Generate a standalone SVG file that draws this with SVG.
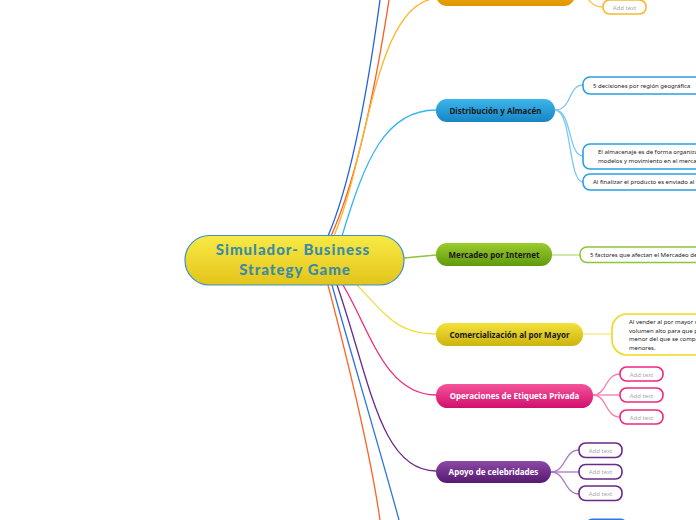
<svg xmlns="http://www.w3.org/2000/svg" width="696" height="520" viewBox="0 0 696 520">
<defs>
<linearGradient id="gC" x1="0" y1="0" x2="0" y2="1"><stop offset="0" stop-color="#f9ea45"/><stop offset="1" stop-color="#e3c41a"/></linearGradient>
<linearGradient id="gO" x1="0" y1="0" x2="0" y2="1"><stop offset="0" stop-color="#f7b81c"/><stop offset="1" stop-color="#e09600"/></linearGradient>
<linearGradient id="gB" x1="0" y1="0" x2="0" y2="1"><stop offset="0" stop-color="#3cb6ec"/><stop offset="1" stop-color="#1784c4"/></linearGradient>
<linearGradient id="gG" x1="0" y1="0" x2="0" y2="1"><stop offset="0" stop-color="#9ccc2c"/><stop offset="1" stop-color="#5f9a0e"/></linearGradient>
<linearGradient id="gY" x1="0" y1="0" x2="0" y2="1"><stop offset="0" stop-color="#f2e23a"/><stop offset="1" stop-color="#cdb30e"/></linearGradient>
<linearGradient id="gP" x1="0" y1="0" x2="0" y2="1"><stop offset="0" stop-color="#f5559a"/><stop offset="1" stop-color="#d20f6e"/></linearGradient>
<linearGradient id="gV" x1="0" y1="0" x2="0" y2="1"><stop offset="0" stop-color="#8c4aa6"/><stop offset="1" stop-color="#561870"/></linearGradient>
</defs>
<style>
.lbl{font-family:"Noto Sans","Open Sans",sans-serif;font-weight:bold;font-size:8px;text-anchor:middle}
.dk{fill:#1a1a1a}
.wt{fill:#ffffff}
.tx{font-family:"Noto Sans","Open Sans",sans-serif;font-size:6px;fill:#222}
.add{font-family:"Noto Sans","Open Sans",sans-serif;font-size:6px;fill:#aaaaaa;text-anchor:middle}
.box{fill:#ffffff;stroke-width:1.6}
.c{fill:none;stroke-width:1.3}
.ct{font-family:Lato,"DejaVu Sans",sans-serif;font-weight:900;font-size:15px;letter-spacing:1px;fill:#3a8ca4;text-anchor:middle}
</style>
<g id="connectors">
<path class="c" stroke="#2162e0" d="M328,236 C348,190 365,110 380,0"/>
<path class="c" stroke="#ff5a24" d="M331,236 C352,190 372,110 389,0"/>
<path class="c" stroke="#ffb424" d="M334,236 C370,150 375,-2 440,-2"/>
<path class="c" stroke="#35b6ef" d="M342,236 C365,160 385,110 436,110"/>
<path class="c" stroke="#8cc43a" d="M404,258 L436,255"/>
<path class="c" stroke="#ece040" d="M357,285 C390,320 400,334 436,334"/>
<path class="c" stroke="#f0287e" d="M343,285 C370,330 385,395 436,395"/>
<path class="c" stroke="#6a2a88" d="M337,285 C370,380 380,471 436,471"/>
<path class="c" stroke="#2a74e0" d="M332,285 C350,350 380,450 399,520"/>
<path class="c" stroke="#ff6428" d="M328,285 C345,350 370,450 380,520"/>
<path class="c" stroke="#ffc250" stroke-width="1" d="M575,-5 C592,-5 588,7 603,7"/>
<path class="c" stroke="#7cc8f0" stroke-width="1" d="M555,110 C572,110 568,85 583,85"/>
<path class="c" stroke="#7cc8f0" stroke-width="1" d="M555,110 C572,110 568,156 583,156"/>
<path class="c" stroke="#7cc8f0" stroke-width="1" d="M555,110 C572,110 568,182 583,182"/>
<path class="c" stroke="#b8dc80" stroke-width="1" d="M552,255 L580,255"/>
<path class="c" stroke="#f2e680" stroke-width="1" d="M583,334 L612,334"/>
<path class="c" stroke="#f57ab0" stroke-width="1" d="M593,395 C607,395 605,374 620,374"/>
<path class="c" stroke="#f57ab0" stroke-width="1" d="M593,395 L620,395"/>
<path class="c" stroke="#f57ab0" stroke-width="1" d="M593,395 C607,395 605,417 620,417"/>
<path class="c" stroke="#a878c0" stroke-width="1" d="M551,472 C566,472 564,450 579,450"/>
<path class="c" stroke="#a878c0" stroke-width="1" d="M551,472 L579,472"/>
<path class="c" stroke="#a878c0" stroke-width="1" d="M551,472 C566,472 564,494 579,494"/>
</g>
<g id="central">
<rect x="185" y="235.5" width="219" height="49.5" rx="24.5" fill="url(#gC)" stroke="#3a90d0" stroke-width="1.2"/>
<text class="ct" x="293" y="255">Simulador- Business</text>
<text class="ct" x="295" y="275">Strategy Game</text>
</g>
<g id="n-orange">
<rect x="436" y="-18" width="139" height="24" rx="11" fill="url(#gO)"/>
</g>
<g id="n-orange-c1">
<rect class="box" x="603" y="0" width="43" height="14" rx="6.5" stroke="#f8b830"/>
<text class="add" x="624.5" y="9.5">Add text</text>
</g>
<g id="n-distribucion">
<rect x="436" y="99" width="119" height="23" rx="11" fill="url(#gB)"/>
<text class="lbl dk" x="495.5" y="113.5">Distribución y Almacén</text>
</g>
<g id="n-dist-c1">
<rect class="box" x="583" y="77" width="130" height="17" rx="7" stroke="#2a9fe2"/>
<text class="tx" x="593" y="87.5">5 decisiones por región geográfica</text>
</g>
<g id="n-dist-c2">
<rect class="box" x="583" y="144" width="130" height="25" rx="7" stroke="#2a9fe2"/>
<text class="tx" x="598" y="154">El almacenaje es de forma organiza</text>
<text class="tx" x="598" y="163">modelos y movimiento en el merca</text>
</g>
<g id="n-dist-c3">
<rect class="box" x="583" y="174" width="130" height="16" rx="7" stroke="#2a9fe2"/>
<text class="tx" x="593" y="184">Al finalizar el producto es enviado al</text>
</g>
<g id="n-mercadeo">
<rect x="436" y="243" width="116" height="23" rx="11" fill="url(#gG)"/>
<text class="lbl dk" x="494" y="257.5">Mercadeo por Internet</text>
</g>
<g id="n-merc-c1">
<rect class="box" x="580" y="247" width="130" height="15.5" rx="7" stroke="#8cc43a"/>
<text class="tx" x="590" y="257">5 factores que afectan el Mercadeo de</text>
</g>
<g id="n-comercializacion">
<rect x="436" y="323" width="147" height="23" rx="11" fill="url(#gY)"/>
<text class="lbl dk" x="509.5" y="337.5">Comercialización al por Mayor</text>
</g>
<g id="n-com-c1">
<rect class="box" x="612" y="314" width="110" height="41" rx="15" stroke="#efd820"/>
<text class="tx" x="629" y="324">Al vender al por mayor s</text>
<text class="tx" x="629" y="332.5">volumen alto para que p</text>
<text class="tx" x="629" y="341">menor del que se compr</text>
<text class="tx" x="629" y="349.5">menores.</text>
</g>
<g id="n-operaciones">
<rect x="436" y="384" width="157" height="24" rx="11.5" fill="url(#gP)"/>
<text class="lbl wt" x="514.5" y="398.5">Operaciones de Etiqueta Privada</text>
</g>
<g id="n-op-c1"><rect class="box" x="620" y="367" width="43" height="14" rx="6.5" stroke="#f0287e"/><text class="add" x="641.5" y="376.5">Add text</text></g>
<g id="n-op-c2"><rect class="box" x="620" y="388" width="43" height="14" rx="6.5" stroke="#f0287e"/><text class="add" x="641.5" y="397.5">Add text</text></g>
<g id="n-op-c3"><rect class="box" x="620" y="410" width="43" height="14" rx="6.5" stroke="#f0287e"/><text class="add" x="641.5" y="419.5">Add text</text></g>
<g id="n-apoyo">
<rect x="436" y="461" width="115" height="22" rx="11" fill="url(#gV)"/>
<text class="lbl wt" x="493.5" y="475">Apoyo de celebridades</text>
</g>
<g id="n-ap-c1"><rect class="box" x="579" y="443" width="43" height="14.5" rx="6.5" stroke="#6a2a88"/><text class="add" x="600.5" y="452.5">Add text</text></g>
<g id="n-ap-c2"><rect class="box" x="579" y="464.5" width="43" height="14.5" rx="6.5" stroke="#6a2a88"/><text class="add" x="600.5" y="474">Add text</text></g>
<g id="n-ap-c3"><rect class="box" x="579" y="486" width="43" height="14.5" rx="6.5" stroke="#6a2a88"/><text class="add" x="600.5" y="495.5">Add text</text></g>
<g id="n-bottom">
<rect x="586" y="518.5" width="41" height="20" rx="6" fill="#2a7ae0"/>
</g>
</svg>
